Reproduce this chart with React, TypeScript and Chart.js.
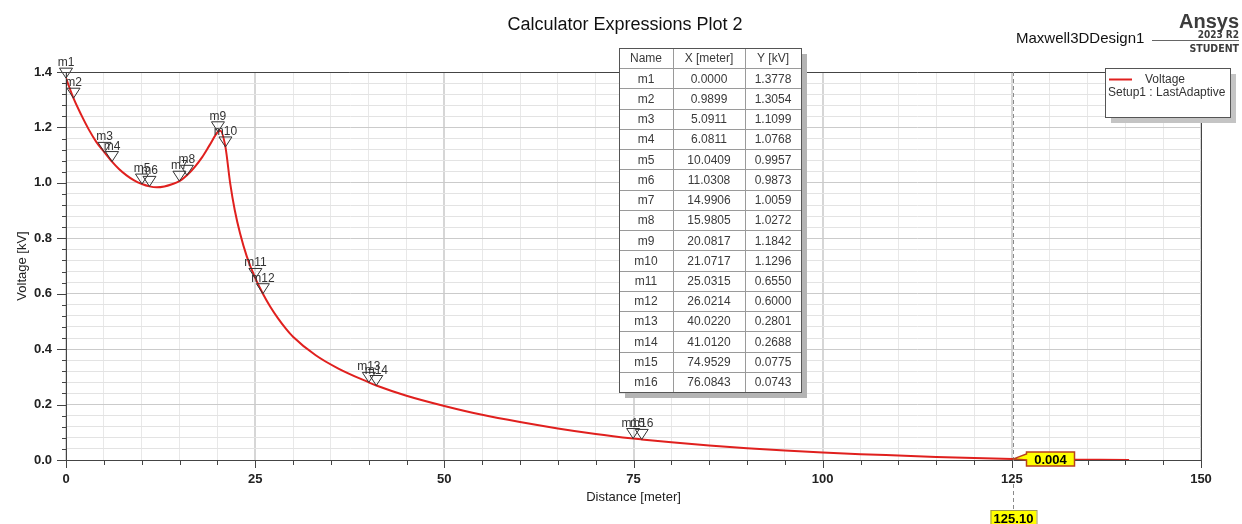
import React, { useEffect, useRef } from "react";
import { Chart, registerables } from "chart.js";
Chart.register(...registerables);

// ---- data ----
const curveX = [0, 0.99, 2, 3, 4, 5.09, 6.08, 7, 8, 9, 10.04, 11.03, 12, 13, 14, 14.99, 15.98, 17, 18, 19, 20.08, 20.4, 21.07, 21.7, 22.3, 23, 23.9, 25.03, 26.02, 27, 28, 29, 30, 33, 36, 40.02, 41.01, 45, 50, 55, 60, 65, 70, 74.95, 76.08, 80, 85, 90, 95, 100, 105, 110, 115, 120, 125.1, 130, 135, 140.5];
const curveY = [1.3778, 1.3054, 1.246, 1.193, 1.148, 1.1099, 1.0768, 1.05, 1.027, 1.009, 0.9957, 0.9873, 0.984, 0.987, 0.995, 1.0059, 1.0272, 1.057, 1.093, 1.137, 1.1842, 1.188, 1.1296, 0.998, 0.902, 0.818, 0.734, 0.655, 0.6, 0.553, 0.512, 0.476, 0.445, 0.378, 0.33, 0.2801, 0.2688, 0.232, 0.195, 0.163, 0.137, 0.114, 0.094, 0.0775, 0.0743, 0.064, 0.052, 0.042, 0.034, 0.027, 0.021, 0.016, 0.011, 0.007, 0.004, 0.002, 0.001, 0.0];

const markerNames = ["m1", "m2", "m3", "m4", "m5", "m6", "m7", "m8", "m9", "m10", "m11", "m12", "m13", "m14", "m15", "m16"];
const markerX = [0.0, 0.9899, 5.0911, 6.0811, 10.0409, 11.0308, 14.9906, 15.9805, 20.0817, 21.0717, 25.0315, 26.0214, 40.022, 41.012, 74.9529, 76.0843];
const markerY = [1.3778, 1.3054, 1.1099, 1.0768, 0.9957, 0.9873, 1.0059, 1.0272, 1.1842, 1.1296, 0.655, 0.6, 0.2801, 0.2688, 0.0775, 0.0743];

const tableHeaders = ["Name", "X [meter]", "Y [kV]"];
const cursorX = 125.1;
const cursorY = 0.004;

const xMin = 0, xMax = 150, xStep = 5, xMajor = 25;
const yMin = 0, yMax = 1.4, yStep = 0.04, yMajor = 0.2;

const titleText = "Calculator Expressions Plot 2";
const designText = "Maxwell3DDesign1";
const legendName = "Voltage";
const legendSetup = "Setup1 : LastAdaptive";
const xTitle = "Distance [meter]";
const yTitle = "Voltage [kV]";

const FONT = '"Liberation Sans", Arial, sans-serif';
const RED = "#e0201e";

const isMult = (v: number, m: number) => Math.abs(v / m - Math.round(v / m)) < 1e-6;

const overlayPlugin = {
  id: "overlay",
  afterDatasetsDraw(chart: any) {
    const ctx = chart.ctx;
    const xs = chart.scales.x;
    const ys = chart.scales.y;
    ctx.save();
    // markers
    ctx.font = `12px ${FONT}`;
    ctx.textAlign = "center";
    ctx.textBaseline = "alphabetic";
    for (let i = 0; i < markerNames.length; i++) {
      const px = xs.getPixelForValue(markerX[i]);
      const py = ys.getPixelForValue(markerY[i]);
      ctx.beginPath();
      ctx.moveTo(px - 6.5, py - 10);
      ctx.lineTo(px + 6.5, py - 10);
      ctx.lineTo(px, py);
      ctx.closePath();
      ctx.strokeStyle = "#333";
      ctx.lineWidth = 1;
      ctx.stroke();
      ctx.fillStyle = "#333";
      ctx.fillText(markerNames[i], px, py - 12);
    }
    ctx.restore();
  },
  afterDraw(chart: any) {
    const ctx = chart.ctx;
    const xs = chart.scales.x;
    const ys = chart.scales.y;
    const a = chart.chartArea;
    ctx.save();

    // frame top / right
    ctx.strokeStyle = "#444";
    ctx.lineWidth = 1;
    ctx.beginPath();
    ctx.moveTo(a.left, Math.round(a.top) + 0.5);
    ctx.lineTo(a.right, Math.round(a.top) + 0.5);
    ctx.moveTo(Math.round(a.right) + 0.5, a.top);
    ctx.lineTo(Math.round(a.right) + 0.5, a.bottom);
    ctx.stroke();

    // tick marks
    ctx.beginPath();
    ys.ticks.forEach((t: any) => {
      const py = Math.round(ys.getPixelForValue(t.value)) + 0.5;
      const len = isMult(t.value, yMajor) ? 9 : 4;
      ctx.moveTo(a.left - len, py);
      ctx.lineTo(a.left, py);
    });
    xs.ticks.forEach((t: any) => {
      const px = Math.round(xs.getPixelForValue(t.value)) + 0.5;
      const len = isMult(t.value, xMajor) ? 8 : 5;
      ctx.moveTo(px, a.bottom);
      ctx.lineTo(px, a.bottom + len);
    });
    ctx.stroke();

    // cursor line
    const cx = Math.round(xs.getPixelForValue(cursorX)) + 0.5;
    const cy = ys.getPixelForValue(cursorY);
    ctx.strokeStyle = "#8a8a8a";
    ctx.setLineDash([4, 3]);
    ctx.beginPath();
    ctx.moveTo(cx, a.top);
    ctx.lineTo(cx, a.bottom + 4);
    ctx.moveTo(cx, a.bottom + 24);
    ctx.lineTo(cx, a.bottom + 50);
    ctx.stroke();
    ctx.setLineDash([]);

    // value callout
    const bx = cx + 13, by = a.bottom - 8, bw = 48, bh = 14;
    ctx.beginPath();
    ctx.moveTo(cx, cy);
    ctx.lineTo(bx, by + 2);
    ctx.lineTo(bx, by);
    ctx.lineTo(bx + bw, by);
    ctx.lineTo(bx + bw, by + bh);
    ctx.lineTo(bx, by + bh);
    ctx.lineTo(bx, by + 8);
    ctx.closePath();
    ctx.fillStyle = "#ffff00";
    ctx.fill();
    ctx.strokeStyle = "#b8401c";
    ctx.lineWidth = 1.5;
    ctx.stroke();
    ctx.fillStyle = "#000";
    ctx.font = `bold 13px ${FONT}`;
    ctx.textAlign = "center";
    ctx.textBaseline = "middle";
    ctx.fillText(cursorY.toFixed(3), bx + bw / 2, by + bh / 2 + 1);

    // x cursor box
    const xbw = 46;
    ctx.fillStyle = "#ffff00";
    ctx.fillRect(cx - xbw / 2, a.bottom + 50, xbw, 20);
    ctx.strokeStyle = "#a09a50";
    ctx.lineWidth = 1;
    ctx.strokeRect(cx - xbw / 2 + 0.5, a.bottom + 50.5, xbw, 20);
    ctx.fillStyle = "#000";
    ctx.textBaseline = "top";
    ctx.fillText(cursorX.toFixed(2), cx, a.bottom + 53);

    // title & header
    ctx.textBaseline = "alphabetic";
    ctx.fillStyle = "#111";
    ctx.font = `18px ${FONT}`;
    ctx.textAlign = "center";
    ctx.fillText(titleText, 625, 30);
    ctx.font = `15px ${FONT}`;
    ctx.textAlign = "left";
    ctx.fillText(designText, 1016, 43);

    // Ansys logo
    ctx.fillStyle = "#3c3c3c";
    ctx.textAlign = "right";
    ctx.font = `bold 20px ${FONT}`;
    ctx.fillText("Ansys", 1239, 28);
    ctx.font = `bold 10px "DejaVu Sans Condensed", "Liberation Sans Narrow", ${FONT}`;
    ctx.fillText("2023 R2", 1239, 38);
    ctx.font = `bold 10.5px "DejaVu Sans Condensed", "Liberation Sans Narrow", ${FONT}`;
    ctx.fillText("STUDENT", 1239, 52);
    ctx.strokeStyle = "#666";
    ctx.beginPath();
    ctx.moveTo(1152, 40.5);
    ctx.lineTo(1239, 40.5);
    ctx.stroke();

    // table
    const tl = 619, tt = 48, cols = [619, 673, 745, 801], tb = 392;
    const rows = markerNames.length + 1;
    const rh = (tb - tt) / rows;
    ctx.fillStyle = "#b4b4b4";
    ctx.fillRect(tl + 6, tt + 6, cols[3] - tl, tb - tt);
    ctx.fillStyle = "#fff";
    ctx.fillRect(tl, tt, cols[3] - tl, tb - tt);
    ctx.strokeStyle = "#9a9a9a";
    ctx.lineWidth = 1;
    ctx.beginPath();
    for (let r = 1; r < rows; r++) {
      const yy = Math.round(tt + r * rh) + 0.5;
      ctx.moveTo(tl, yy);
      ctx.lineTo(cols[3], yy);
    }
    for (let c = 1; c < 3; c++) {
      ctx.moveTo(cols[c] + 0.5, tt);
      ctx.lineTo(cols[c] + 0.5, tb);
    }
    ctx.stroke();
    ctx.strokeStyle = "#555";
    ctx.strokeRect(tl + 0.5, tt + 0.5, cols[3] - tl, tb - tt);
    ctx.fillStyle = "#3a3a3a";
    ctx.font = `12px ${FONT}`;
    ctx.textAlign = "center";
    ctx.textBaseline = "middle";
    const cellRows: string[][] = [tableHeaders];
    for (let i = 0; i < markerNames.length; i++) {
      cellRows.push([markerNames[i], markerX[i].toFixed(4), markerY[i].toFixed(4)]);
    }
    cellRows.forEach((row, r) => {
      const yy = tt + r * rh + rh / 2 + 1;
      row.forEach((txt, c) => {
        ctx.fillText(txt, (cols[c] + cols[c + 1]) / 2, yy);
      });
    });

    // legend
    const lx = 1105, ly = 68, lw = 125, lh = 49;
    ctx.fillStyle = "#c4c4c4";
    ctx.fillRect(lx + 6, ly + 6, lw, lh);
    ctx.fillStyle = "#fff";
    ctx.fillRect(lx, ly, lw, lh);
    ctx.strokeStyle = "#555";
    ctx.strokeRect(lx + 0.5, ly + 0.5, lw, lh);
    ctx.strokeStyle = RED;
    ctx.lineWidth = 2;
    ctx.beginPath();
    ctx.moveTo(1109, 79.5);
    ctx.lineTo(1132, 79.5);
    ctx.stroke();
    ctx.fillStyle = "#333";
    ctx.font = `12px ${FONT}`;
    ctx.textAlign = "left";
    ctx.textBaseline = "middle";
    ctx.fillText(legendName, 1145, 80);
    ctx.fillText(legendSetup, 1108, 93);

    ctx.restore();
  },
};

export default function App() {
  const ref = useRef<HTMLCanvasElement>(null);
  useEffect(() => {
    const canvas = ref.current!;
    const chart = new Chart(canvas, {
      type: "line",
      data: {
        datasets: [
          {
            label: legendName,
            data: curveX.map((x, i) => ({ x, y: curveY[i] })),
            borderColor: RED,
            backgroundColor: RED,
            borderWidth: 2,
            pointRadius: 0,
            cubicInterpolationMode: "monotone",
            fill: false,
          },
        ],
      },
      options: {
        responsive: false,
        animation: false,
        devicePixelRatio: 1,
        layout: { padding: { left: 0, top: 72, right: 41, bottom: 0 } },
        plugins: { legend: { display: false }, tooltip: { enabled: false }, title: { display: false } },
        scales: {
          x: {
            type: "linear",
            min: xMin,
            max: xMax,
            afterFit: (s: any) => { s.height = 64; },
            ticks: {
              stepSize: xStep,
              autoSkip: false,
              maxRotation: 0,
              padding: 12,
              color: "#222",
              font: { family: FONT, size: 13, weight: "bold" },
              callback: (v: any) => (isMult(Number(v), xMajor) ? String(Math.round(Number(v))) : ""),
            },
            grid: {
              drawTicks: false,
              color: (c: any) => (c.tick && isMult(c.tick.value, xMajor) ? "#d6d6d6" : "#e8e8e8"),
              lineWidth: (c: any) => (c.tick && isMult(c.tick.value, xMajor) ? 2 : 1),
            },
            border: { display: true, color: "#444", width: 1 },
            title: {
              display: true,
              text: xTitle,
              color: "#222",
              font: { family: FONT, size: 13 },
              padding: { top: 0, bottom: 19 },
            },
          },
          y: {
            type: "linear",
            min: yMin,
            max: yMax,
            afterFit: (s: any) => { s.width = 66; },
            ticks: {
              stepSize: yStep,
              autoSkip: false,
              padding: 14,
              color: "#222",
              font: { family: FONT, size: 13, weight: "bold" },
              callback: (v: any) => (isMult(Number(v), yMajor) ? Number(v).toFixed(1) : ""),
            },
            grid: {
              drawTicks: false,
              color: (c: any) => (c.tick && isMult(c.tick.value, yMajor) ? "#cbcbcb" : "#e3e3e3"),
              lineWidth: 1,
            },
            border: { display: true, color: "#444", width: 1 },
            title: {
              display: true,
              text: yTitle,
              color: "#222",
              font: { family: FONT, size: 13 },
              padding: { top: 15, bottom: 0 },
            },
          },
        },
      },
      plugins: [overlayPlugin],
    } as any);
    return () => chart.destroy();
  }, []);
  return (
    <div style={{ position: "fixed", left: 0, top: 0, width: 1242, height: 524, background: "#fff" }}>
      <canvas ref={ref} width={1242} height={524} style={{ display: "block", width: 1242, height: 524 }} />
    </div>
  );
}
